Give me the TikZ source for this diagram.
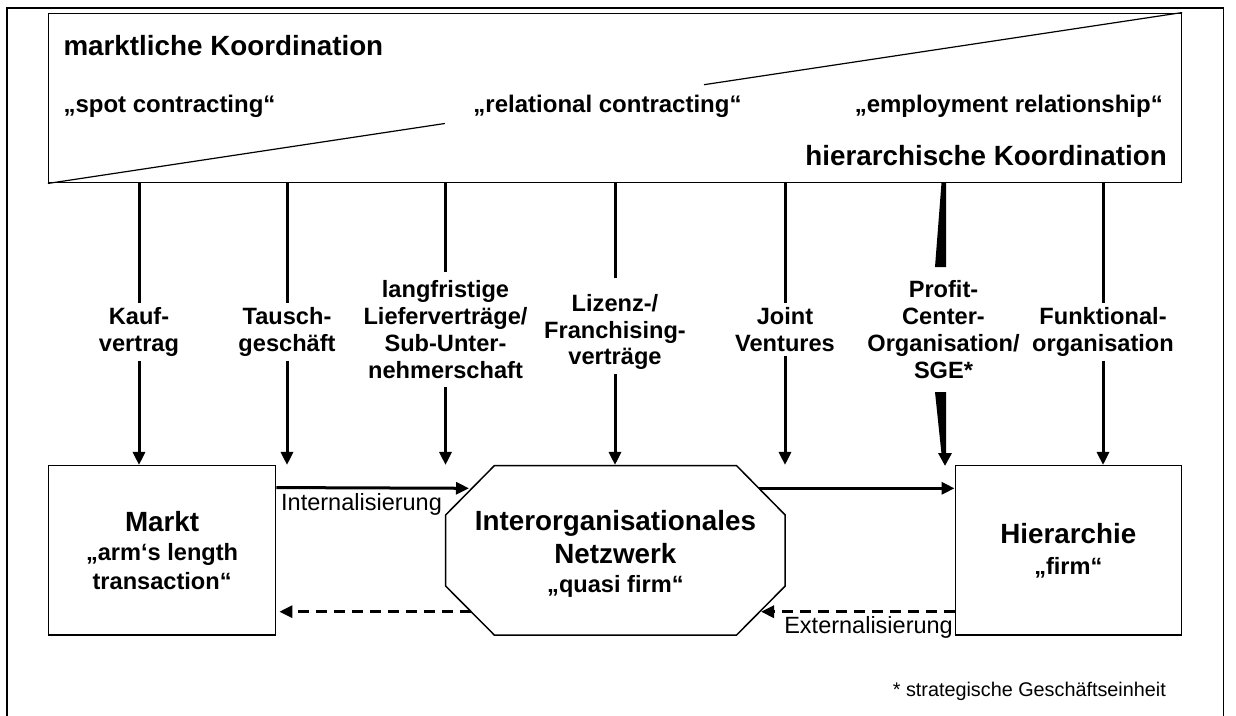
\documentclass[tikz,border=0pt]{standalone}
\usepackage{fontspec}
\setmainfont{Liberation Sans}
\usetikzlibrary{arrows.meta,calc}
\begin{document}
\begin{tikzpicture}[x=1pt,y=-1pt,
  big/.style={font=\fontsize{27.8}{32}\selectfont\bfseries, inner sep=0pt},
  quot/.style={font=\fontsize{24}{28}\selectfont\bfseries, inner sep=0pt},
  lab/.style={font=\fontsize{23.6}{26.8}\selectfont\bfseries, align=center, inner xsep=2pt, inner ysep=4pt},
  reg/.style={font=\fontsize{23.5}{27}\selectfont, inner sep=0pt},
  foot/.style={font=\fontsize{19.8}{24}\selectfont, inner sep=0pt},
  boxtext/.style={font=\fontsize{23.6}{29}\selectfont\bfseries, align=center},
  box/.style={draw, line width=1.5pt, inner sep=0pt},
  frame/.style={line width=1.5pt},
  diag/.style={line width=1.2pt},
  seg/.style={line width=3pt},
  arr/.style={line width=3pt, -{Triangle[length=13pt,width=12pt]}},
  darr/.style={arr, dash pattern=on 11pt off 7pt}
]
\useasboundingbox (0,0) rectangle (1236,715);
% outer frame
\draw[frame] (7,717) -- (7,8) -- (1223.5,8) -- (1223.5,717);
% top box
\node[box, minimum width=1132.8pt, minimum height=169.4pt] (coord) at (615,98) {};
\coordinate (d1) at (444.8,123.5);
\coordinate (d2) at (704,84.7);
\draw[diag] (coord.south west) -- (d1);
\draw[diag] (d2) -- (coord.north east);
\node[big, anchor=base west] (mk) at (63.3,55.5) {marktliche Koordination};
\node[big, anchor=base east] (hk) at (1167,165) {hierarchische Koordination};
\node[quot, anchor=base west] (spot) at (63.3,112) {„spot contracting“};
\node[quot, anchor=base] (rel) at (607.5,112) {„relational contracting“};
\node[quot, anchor=base east] (emp) at (1163,112) {„employment relationship“};

% bottom boxes
\node[box, minimum width=227pt, minimum height=169.3pt, boxtext] (markt) at (162.1,550.35)
  {{\fontsize{27.8}{29}\selectfont Markt}\\„arm‘s length\\transaction“};
\node[box, minimum width=226.1pt, minimum height=169.3pt, boxtext] (hier) at (1068.35,550.35)
  {{\fontsize{27.8}{29}\selectfont Hierarchie}\\[2pt]„firm“};
% octagon
\coordinate (o1) at (494.3,465.7);
\coordinate (o2) at (736.6,465.7);
\coordinate (o3) at (785.2,515);
\coordinate (o4) at (785.2,586);
\coordinate (o5) at (736.6,635);
\coordinate (o6) at (494.3,635);
\coordinate (o7) at (445.6,586);
\coordinate (o8) at (445.6,515);
\draw[line width=1.5pt, line join=miter] (o1) -- (o2) -- (o3) -- (o4) -- (o5) -- (o6) -- (o7) -- (o8) -- cycle;
\node[boxtext, inner sep=0pt] (netz) at (615.4,553.5)
  {{\fontsize{27.8}{29}\selectfont Interorganisationales}\\[4pt]{\fontsize{27.8}{29}\selectfont Netzwerk}\\„quasi firm“};

% labels on vertical arrows
\node[lab] (kauf) at (139,332) {Kauf-\\vertrag};
\node[lab] (tausch) at (287,332) {Tausch-\\geschäft};
\node[lab, inner ysep=8pt] (lang) at (445.5,329.5) {langfristige\\Lieferverträge/\\Sub-Unter-\\nehmerschaft};
\node[lab] (liz) at (615,332) {Lizenz-/\\Franchising-\\verträge};
\node[lab] (joint) at (785,329.5) {Joint\\Ventures};
\node[lab] (pc) at (943.5,329.5) {Profit-\\Center-\\Organisation/\\SGE*};
\node[lab] (funk) at (1103,332) {Funktional-\\organisation};

% vertical arrows
\foreach \n in {kauf,tausch,lang,joint,funk}{
  \draw[seg] (coord.south -| \n) -- (\n.north);
  \draw[arr] (\n.south) -- (\n |- markt.north);
}
\draw[seg] (coord.south -| liz) -- ($(liz.north)+(0,-12)$);
\draw[arr] (liz.south) -- (liz |- markt.north);
% tapered arrow (Profit-Center)
\coordinate (w1) at (941.5,182.7);
\coordinate (w2) at (946,182.7);
\coordinate (w3) at (946,267);
\coordinate (w4) at (935,267);
\fill (w1) -- (w2) -- (w3) -- (w4) -- cycle;
\coordinate (w5) at (935,392);
\coordinate (w6) at (946,392);
\coordinate (w7) at (946,454);
\coordinate (w8) at (941.5,454);
\fill (w5) -- (w6) -- (w7) -- (w8) -- cycle;
\coordinate (t1) at (938,453);
\coordinate (t2) at (952,453);
\coordinate (t3) at (945,465.7);
\fill (t1) -- (t2) -- (t3) -- cycle;

% horizontal arrows
\coordinate (nIn) at (469,488.3);
\coordinate (nOut) at (758.6,488.3);
\coordinate (nDL) at (471,611.7);
\coordinate (nDR) at (761,611.7);
\draw[arr] ($(markt.north east)+(0,22.6)$) -- (nIn);
\draw[arr] (nOut) -- (hier.west |- nOut);
\draw[darr] (nDL) -- ($(markt.east |- nDL)+(3,0)$);
\draw[darr] (hier.west |- nDR) -- (nDR);
\node[reg, anchor=base west] (intl) at (281,510.7) {Internalisierung};
\node[reg, anchor=base east] (extl) at (953,633) {Externalisierung};

% footnote
\node[foot, anchor=base east] (fn) at (1166,696) {* strategische Geschäftseinheit};
\end{tikzpicture}
\end{document}
